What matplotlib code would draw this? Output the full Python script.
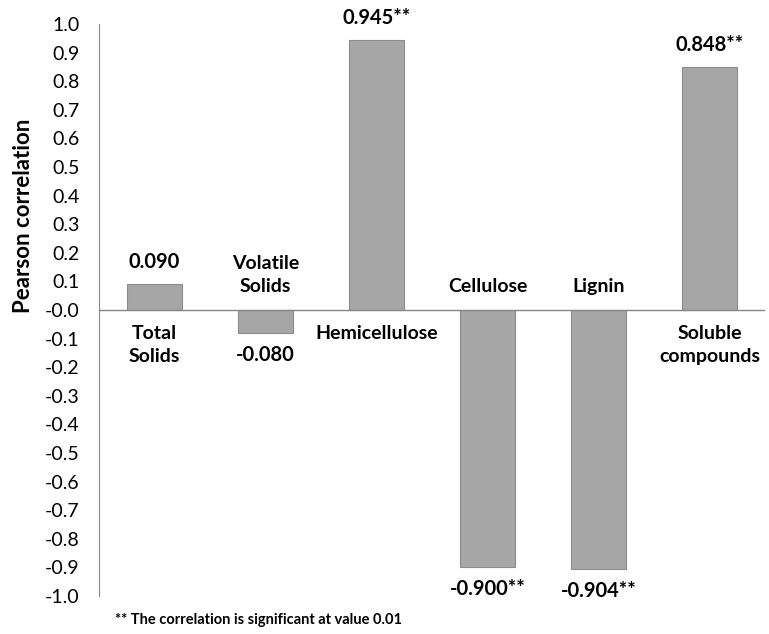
import matplotlib.pyplot as plt
import numpy as np

plt.rcParams['font.family'] = ['Lato', 'DejaVu Sans']

categories = ['Total\nSolids', 'Volatile\nSolids', 'Hemicellulose', 'Cellulose', 'Lignin', 'Soluble\ncompounds']
values = [0.090, -0.080, 0.945, -0.900, -0.904, 0.848]
value_labels = ['0.090', '-0.080', '0.945**', '-0.900**', '-0.904**', '0.848**']
# side of the zero line where the category name sits
name_side = ['below', 'above', 'below', 'above', 'above', 'below']
yticks = np.round(np.arange(-1.0, 1.01, 0.1), 1)
footnote = '** The correlation is significant at value 0.01'

fig = plt.figure(figsize=(7.69, 6.34), dpi=100)
ax = fig.add_axes([99 / 769, 1 - 596 / 634, 666 / 769, 572 / 634])

x = np.arange(len(categories))
ax.bar(x, values, width=0.5, color='#A6A6A6', edgecolor='#8C8C8C', linewidth=0.8, zorder=2)
ax.axhline(0, color='#868686', linewidth=1.0, zorder=3)

ax.set_xlim(-0.5, len(categories) - 0.5)
ax.set_ylim(-1.0, 1.0)
ax.set_yticks(yticks)
ax.set_yticklabels([f'{t:.1f}' for t in yticks], fontsize=14)
ax.tick_params(axis='y', length=0, pad=14, colors='black')
ax.set_xticks([])

for s in ['top', 'right', 'bottom']:
    ax.spines[s].set_visible(False)
ax.spines['left'].set_color('#868686')

ax.set_ylabel('Pearson correlation', fontsize=16, fontweight='bold')
ax.yaxis.set_label_coords(-0.098, 0.665)

for xi, v, lab in zip(x, values, value_labels):
    off = 22 if v >= 0 else -22
    ax.annotate(lab, (xi, v), xytext=(0, off), textcoords='offset pixels',
                ha='center', va='center', fontsize=14.5, fontweight='bold')

for xi, name, side in zip(x, categories, name_side):
    if side == 'below':
        ax.annotate(name, (xi, 0), xytext=(0, -15), textcoords='offset pixels',
                    ha='center', va='top', fontsize=14, fontweight='bold', linespacing=1.45)
    else:
        ax.annotate(name, (xi, 0), xytext=(0, 15), textcoords='offset pixels',
                    ha='center', va='bottom', fontsize=14, fontweight='bold', linespacing=1.45)

fig.text(115 / 769, 1 - 620 / 634, footnote, fontsize=10.5, fontweight='bold', va='center', ha='left')

fig.savefig('out.png', dpi=100)
